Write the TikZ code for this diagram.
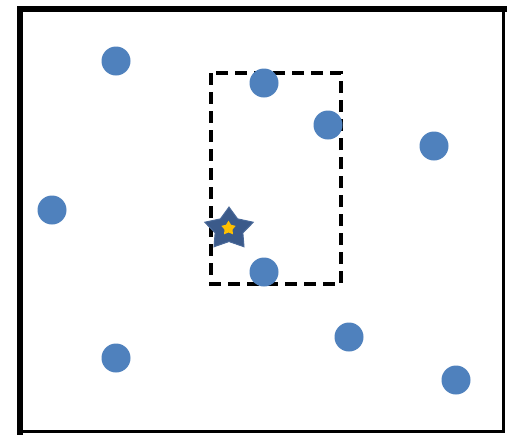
\documentclass[tikz,border=0pt]{standalone}
\usetikzlibrary{shapes.geometric}
\definecolor{dotblue}{HTML}{4F81BD}
\definecolor{stardark}{HTML}{3B5A8A}
\definecolor{staredge}{HTML}{4A6A9A}
\definecolor{staryellow}{HTML}{FFC000}
\begin{document}
\begin{tikzpicture}[x=1pt,y=-1pt,
  dot/.style={circle,fill=dotblue,inner sep=0pt,minimum size=29pt},
  frameline/.style={line width=6pt,line cap=rect},
  thinline/.style={line width=2.5pt,line cap=rect},
  region/.style={draw=black,line width=4pt,dash pattern=on 12pt off 7pt},
  starshape/.style={star,star points=5,star point ratio=1.75,inner sep=0pt}]
\useasboundingbox (0,0) rectangle (508,434);
\fill[white] (0,0) rectangle (508,434);
% frame
\coordinate (tl) at (20,8.5);
\coordinate (tr) at (503.5,8.5);
\coordinate (bl) at (20,431.5);
\coordinate (br) at (503.5,431.5);
\draw[thinline] (tr) -- (br) -- (bl);
\draw[frameline] (bl) -- (tl) -- (tr);
% dashed region
\coordinate (r1) at (211,73);
\coordinate (r2) at (341,284);
\draw[region] (r1) rectangle (r2);
% dots
\node[dot] (d1) at (116,61) {};
\node[dot] (d2) at (264,83) {};
\node[dot] (d3) at (328,125) {};
\node[dot] (d4) at (434,146) {};
\node[dot] (d5) at (52,210) {};
\node[dot] (d6) at (264,272) {};
\node[dot] (d7) at (349,337) {};
\node[dot] (d8) at (116,358) {};
\node[dot] (d9) at (456,380) {};
% star
\node[starshape,fill=stardark,draw=staredge,line width=1pt,minimum size=51pt,yscale=0.86,transform shape] (s) at (229,229) {};
\node[starshape,fill=staryellow,minimum size=15pt] (si) at (228.5,228.2) {};
\end{tikzpicture}
\end{document}
